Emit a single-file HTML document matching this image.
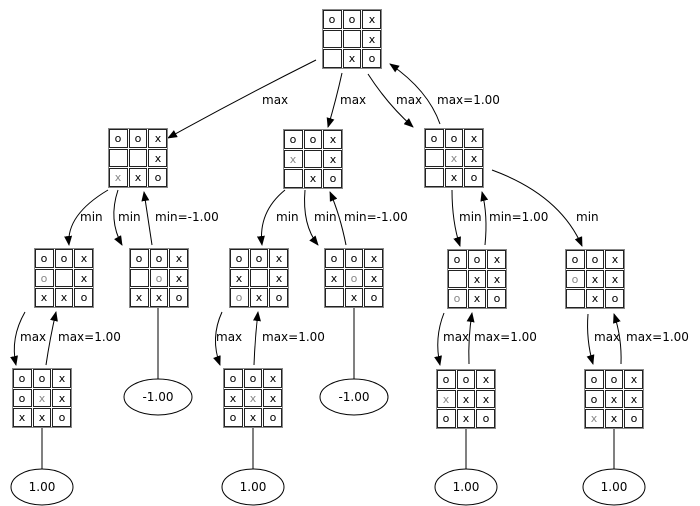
<!DOCTYPE html>
<html><head><meta charset="utf-8"><style>
body{margin:0;background:#fff}
svg{display:block}
.t{font-family:"DejaVu Sans","Liberation Sans",sans-serif;font-size:11px;text-anchor:middle;fill:#000}
.g{fill:#888}
.l{font-family:"DejaVu Sans","Liberation Sans",sans-serif;font-size:12px;fill:#000}
.e{font-family:"DejaVu Sans","Liberation Sans",sans-serif;font-size:12px;text-anchor:middle}
path.a{fill:none;stroke:#000;stroke-width:1;marker-end:url(#ar)}
</style></head><body>
<svg width="700" height="506" viewBox="0 0 700 506" xmlns="http://www.w3.org/2000/svg">
<defs>
<marker id="ar" markerWidth="10" markerHeight="8" refX="9" refY="4" orient="auto" markerUnits="userSpaceOnUse"><path d="M0,0 L10,4 L0,8 z" fill="#000"/></marker>
<g id="gr" fill="#fff" stroke="#222" stroke-width="1">
<rect x="0.5" y="0.5" width="59" height="59" stroke="#888"/>
<rect x="1.5" y="1.5" width="18" height="18"/><rect x="21.5" y="1.5" width="17" height="18"/><rect x="40.5" y="1.5" width="18" height="18"/>
<rect x="1.5" y="21.5" width="18" height="17"/><rect x="21.5" y="21.5" width="17" height="17"/><rect x="40.5" y="21.5" width="18" height="17"/>
<rect x="1.5" y="40.5" width="18" height="18"/><rect x="21.5" y="40.5" width="17" height="18"/><rect x="40.5" y="40.5" width="18" height="18"/>
</g>
</defs>
<g stroke="#000" fill="none">
<path class="a" d="M316,60 Q240,98 168,138"/>
<path class="a" d="M342,73 Q336,100 328,127"/>
<path class="a" d="M368,74 Q388,105 413,127"/>
<path class="a" d="M440,124 Q428,90 390,64"/>
<path class="a" d="M108,190 Q66,215 69,245"/>
<path class="a" d="M118,190 Q108,220 122,245"/>
<path class="a" d="M152,245 Q148,218 144,192"/>
<path class="a" d="M285,190 Q258,212 262,245"/>
<path class="a" d="M305,190 Q302,225 318,245"/>
<path class="a" d="M346,245 Q340,215 330,192"/>
<path class="a" d="M452,190 Q452,222 460,246"/>
<path class="a" d="M485,245 Q488,215 482,192"/>
<path class="a" d="M492,170 Q560,195 582,246"/>
<path class="a" d="M25,312 Q10,338 16,365"/>
<path class="a" d="M46,365 Q50,338 56,312"/>
<path class="a" d="M222,312 Q210,338 220,365"/>
<path class="a" d="M254,365 Q255,338 258,312"/>
<path class="a" d="M444,313 Q434,338 440,365"/>
<path class="a" d="M469,364 Q468,338 472,313"/>
<path class="a" d="M588,314 Q586,340 593,364"/>
<path class="a" d="M621,364 Q622,338 614,314"/>
<path d="M158,308 V379 M354,308 V379 M42,428 V469 M253,428 V469 M466,428 V469 M614,428 V469"/>
<ellipse cx="158" cy="397" rx="34" ry="18"/>
<ellipse cx="354" cy="397" rx="34" ry="18"/>
<ellipse cx="42" cy="487" rx="31" ry="18"/>
<ellipse cx="253" cy="487" rx="31" ry="18"/>
<ellipse cx="466" cy="487" rx="31" ry="18"/>
<ellipse cx="614" cy="487" rx="31" ry="18"/>
</g>
<text class="e" x="158" y="401">-1.00</text>
<text class="e" x="354" y="401">-1.00</text>
<text class="e" x="42" y="491">1.00</text>
<text class="e" x="253" y="491">1.00</text>
<text class="e" x="466" y="491">1.00</text>
<text class="e" x="614" y="491">1.00</text>
<g class="l">
<text x="262" y="104">max</text>
<text x="340" y="104">max</text>
<text x="396" y="104">max</text>
<text x="437" y="104">max=1.00</text>
<text x="80" y="221">min</text>
<text x="118" y="221">min</text>
<text x="155" y="221">min=-1.00</text>
<text x="276" y="221">min</text>
<text x="314" y="221">min</text>
<text x="344" y="221">min=-1.00</text>
<text x="459" y="221">min</text>
<text x="489" y="221">min=1.00</text>
<text x="576" y="221">min</text>
<text x="20" y="341">max</text>
<text x="58" y="341">max=1.00</text>
<text x="216" y="341">max</text>
<text x="262" y="341">max=1.00</text>
<text x="443" y="341">max</text>
<text x="474" y="341">max=1.00</text>
<text x="594" y="341">max</text>
<text x="626" y="341">max=1.00</text>
</g>
<g transform="translate(322,9)"><use href="#gr"/><g class="t">
<text x="10" y="14">o</text><text x="30" y="14">o</text><text x="50" y="14">x</text>
<text x="50" y="34">x</text>
<text x="30" y="53">x</text><text x="50" y="53">o</text></g></g>
<g transform="translate(108,128)"><use href="#gr"/><g class="t">
<text x="10" y="14">o</text><text x="30" y="14">o</text><text x="50" y="14">x</text>
<text x="50" y="34">x</text>
<text class="g" x="10" y="53">x</text><text x="30" y="53">x</text><text x="50" y="53">o</text></g></g>
<g transform="translate(283,129)"><use href="#gr"/><g class="t">
<text x="10" y="14">o</text><text x="30" y="14">o</text><text x="50" y="14">x</text>
<text class="g" x="10" y="34">x</text><text x="50" y="34">x</text>
<text x="30" y="53">x</text><text x="50" y="53">o</text></g></g>
<g transform="translate(424,128)"><use href="#gr"/><g class="t">
<text x="10" y="14">o</text><text x="30" y="14">o</text><text x="50" y="14">x</text>
<text class="g" x="30" y="34">x</text><text x="50" y="34">x</text>
<text x="30" y="53">x</text><text x="50" y="53">o</text></g></g>
<g transform="translate(34,248)"><use href="#gr"/><g class="t">
<text x="10" y="14">o</text><text x="30" y="14">o</text><text x="50" y="14">x</text>
<text class="g" x="10" y="34">o</text><text x="50" y="34">x</text>
<text x="10" y="53">x</text><text x="30" y="53">x</text><text x="50" y="53">o</text></g></g>
<g transform="translate(129,248)"><use href="#gr"/><g class="t">
<text x="10" y="14">o</text><text x="30" y="14">o</text><text x="50" y="14">x</text>
<text class="g" x="30" y="34">o</text><text x="50" y="34">x</text>
<text x="10" y="53">x</text><text x="30" y="53">x</text><text x="50" y="53">o</text></g></g>
<g transform="translate(229,248)"><use href="#gr"/><g class="t">
<text x="10" y="14">o</text><text x="30" y="14">o</text><text x="50" y="14">x</text>
<text x="10" y="34">x</text><text x="50" y="34">x</text>
<text class="g" x="10" y="53">o</text><text x="30" y="53">x</text><text x="50" y="53">o</text></g></g>
<g transform="translate(324,248)"><use href="#gr"/><g class="t">
<text x="10" y="14">o</text><text x="30" y="14">o</text><text x="50" y="14">x</text>
<text x="10" y="34">x</text><text class="g" x="30" y="34">o</text><text x="50" y="34">x</text>
<text x="30" y="53">x</text><text x="50" y="53">o</text></g></g>
<g transform="translate(447,249)"><use href="#gr"/><g class="t">
<text x="10" y="14">o</text><text x="30" y="14">o</text><text x="50" y="14">x</text>
<text x="30" y="34">x</text><text x="50" y="34">x</text>
<text class="g" x="10" y="53">o</text><text x="30" y="53">x</text><text x="50" y="53">o</text></g></g>
<g transform="translate(565,249)"><use href="#gr"/><g class="t">
<text x="10" y="14">o</text><text x="30" y="14">o</text><text x="50" y="14">x</text>
<text class="g" x="10" y="34">o</text><text x="30" y="34">x</text><text x="50" y="34">x</text>
<text x="30" y="53">x</text><text x="50" y="53">o</text></g></g>
<g transform="translate(12,368)"><use href="#gr"/><g class="t">
<text x="10" y="14">o</text><text x="30" y="14">o</text><text x="50" y="14">x</text>
<text x="10" y="34">o</text><text class="g" x="30" y="34">x</text><text x="50" y="34">x</text>
<text x="10" y="53">x</text><text x="30" y="53">x</text><text x="50" y="53">o</text></g></g>
<g transform="translate(223,368)"><use href="#gr"/><g class="t">
<text x="10" y="14">o</text><text x="30" y="14">o</text><text x="50" y="14">x</text>
<text x="10" y="34">x</text><text class="g" x="30" y="34">x</text><text x="50" y="34">x</text>
<text x="10" y="53">o</text><text x="30" y="53">x</text><text x="50" y="53">o</text></g></g>
<g transform="translate(436,369)"><use href="#gr"/><g class="t">
<text x="10" y="14">o</text><text x="30" y="14">o</text><text x="50" y="14">x</text>
<text class="g" x="10" y="34">x</text><text x="30" y="34">x</text><text x="50" y="34">x</text>
<text x="10" y="53">o</text><text x="30" y="53">x</text><text x="50" y="53">o</text></g></g>
<g transform="translate(584,369)"><use href="#gr"/><g class="t">
<text x="10" y="14">o</text><text x="30" y="14">o</text><text x="50" y="14">x</text>
<text x="10" y="34">o</text><text x="30" y="34">x</text><text x="50" y="34">x</text>
<text class="g" x="10" y="53">x</text><text x="30" y="53">x</text><text x="50" y="53">o</text></g></g>
</svg>
</body></html>
